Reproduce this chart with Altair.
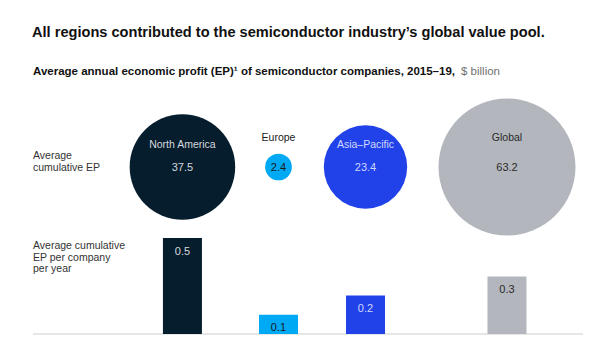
import altair as alt
import pandas as pd

regions = ["North America", "Europe", "Asia–Pacific", "Global"]
cumulative_ep = [37.5, 2.4, 23.4, 63.2]
ep_per_company = [0.5, 0.1, 0.2, 0.3]

fill_colors = ["#061d2d", "#00a9f4", "#2142e8", "#b3b7bd"]
circle_text_colors = ["#d5d9dd", "#1a1a1a", "#d0d8ff", "#2a2a2a"]
bar_text_colors = ["#d5d9dd", "#1a1a1a", "#d0d8ff", "#2a2a2a"]

title = "All regions contributed to the semiconductor industry’s global value pool."
subtitle = "Average annual economic profit (EP)¹ of semiconductor companies, 2015–19,"
subtitle_unit = "$ billion"
row_label_1 = ["Average", "cumulative EP"]
row_label_2 = ["Average cumulative", "EP per company", "per year"]

df = pd.DataFrame({
    "region": regions,
    "slot": list(range(len(regions))),
    "cum": cumulative_ep,
    "per": ep_per_company,
    "cum_label": [f"{v:.1f}" for v in cumulative_ep],
    "per_label": [f"{v:.1f}" for v in ep_per_company],
})
one = pd.DataFrame({"k": [0]})

FONT = "Liberation Sans"
# piecewise-linear position scale: one slot per region, uneven spacing as in the original layout
x_enc = alt.X("slot:Q", scale=alt.Scale(domain=[0, 1, 2, 3], range=[170, 270.5, 357.5, 505.5]), axis=None)
y_scale = alt.Scale(domain=[0, 0.5], range=[326, 230])
fill_scale = alt.Scale(domain=regions, range=fill_colors)
circ_txt_scale = alt.Scale(domain=regions, range=circle_text_colors)
bar_txt_scale = alt.Scale(domain=regions, range=bar_text_colors)

base = alt.Chart(df)

circles = base.mark_circle(opacity=1).encode(
    x=x_enc,
    y=alt.value(159),
    size=alt.Size("cum:Q", scale=alt.Scale(domain=[0, 100], range=[0, 29700]), legend=None),
    color=alt.Color("region:N", scale=fill_scale, legend=None),
)

name_inside = base.transform_filter(
    alt.FieldOneOfPredicate(field="region", oneOf=[regions[0], regions[2]])
).mark_text(font=FONT, fontSize=10.5, baseline="middle").encode(
    x=x_enc,
    y=alt.value(137),
    text="region:N",
    color=alt.Color("region:N", scale=circ_txt_scale, legend=None),
)
name_top = base.transform_filter(
    alt.FieldOneOfPredicate(field="region", oneOf=[regions[1], regions[3]])
).mark_text(font=FONT, fontSize=10.5, baseline="middle").encode(
    x=x_enc,
    y=alt.value(130),
    text="region:N",
    color=alt.Color("region:N", scale=circ_txt_scale, legend=None),
)
cum_text = base.mark_text(font=FONT, fontSize=11, baseline="middle").encode(
    x=x_enc,
    y=alt.value(160),
    text="cum_label:N",
    color=alt.Color("region:N", scale=circ_txt_scale, legend=None),
)

baseline_rule = alt.Chart(one).mark_rule(color="#e6e6e6", strokeWidth=2).encode(
    x=alt.value(25), x2=alt.value(575), y=alt.value(326)
)

bars = base.mark_bar(size=39).encode(
    x=x_enc,
    y=alt.Y("per:Q", scale=y_scale, axis=None),
    color=alt.Color("region:N", scale=fill_scale, legend=None),
)
bar_text = base.mark_text(font=FONT, fontSize=11, baseline="middle", dy=13.5).encode(
    x=x_enc,
    y=alt.Y("per:Q", scale=y_scale, axis=None),
    text="per_label:N",
    color=alt.Color("region:N", scale=bar_txt_scale, legend=None),
)

title_t = alt.Chart(one).mark_text(
    font=FONT, fontSize=14.6, fontWeight="bold", align="left", baseline="middle", color="#111111"
).encode(x=alt.value(24), y=alt.value(25), text=alt.value(title))
sub_t = alt.Chart(one).mark_text(
    font=FONT, fontSize=11.5, fontWeight="bold", align="left", baseline="middle", color="#111111"
).encode(x=alt.value(25), y=alt.value(64), text=alt.value(subtitle))
unit_t = alt.Chart(one).mark_text(
    font=FONT, fontSize=11.5, align="left", baseline="middle", color="#707070"
).encode(x=alt.value(453), y=alt.value(64), text=alt.value(subtitle_unit))
row1 = alt.Chart(one).mark_text(
    font=FONT, fontSize=10.5, align="left", baseline="alphabetic", color="#333333", lineHeight=12
).encode(x=alt.value(25), y=alt.value(151), text=alt.value(row_label_1))
row2 = alt.Chart(one).mark_text(
    font=FONT, fontSize=10.5, align="left", baseline="alphabetic", color="#333333", lineHeight=11.5
).encode(x=alt.value(25), y=alt.value(241), text=alt.value(row_label_2))

chart = alt.layer(
    baseline_rule, circles, name_inside, name_top, cum_text, bars, bar_text,
    title_t, sub_t, unit_t, row1, row2
).resolve_scale(color="independent").properties(
    width=597, height=343, autosize="none", padding=0, background="white"
).configure_view(stroke=None)

chart.save("out.html", embed_options={"renderer": "svg", "actions": False})
